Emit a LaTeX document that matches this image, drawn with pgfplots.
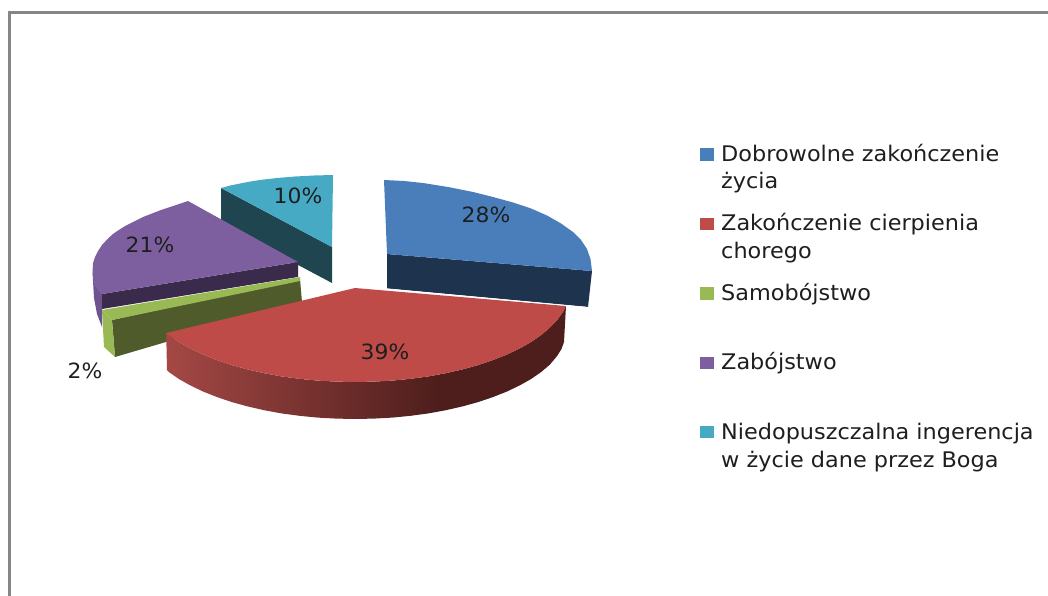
\documentclass[border=0pt]{standalone}
\usepackage{fontspec}
\setmainfont[FakeStretch=1.04]{DejaVu Sans}
\usepackage{pgfplots}
\pgfplotsset{compat=1.18}
\definecolor{cblue}{HTML}{4A7EBB}
\definecolor{cbluedk}{HTML}{1E334E}
\definecolor{cred}{HTML}{BE4B48}
\definecolor{credA}{HTML}{A44845}
\definecolor{credB}{HTML}{4E1E1C}
\definecolor{cgreen}{HTML}{98B954}
\definecolor{cgreendk}{HTML}{4F5B2A}
\definecolor{cpurple}{HTML}{7D5FA0}
\definecolor{cpurpledk}{HTML}{3A2A4C}
\definecolor{cpurplemd}{HTML}{6E5390}
\definecolor{cteal}{HTML}{46AAC5}
\definecolor{ctealdk}{HTML}{1F4650}
\definecolor{cframe}{HTML}{868686}
\definecolor{ctext}{HTML}{1E1E1E}
\pgfdeclarehorizontalshading{redside}{100bp}{color(0bp)=(credA); color(25bp)=(credA); color(59bp)=(credB); color(75bp)=(credB); color(100bp)=(credB)}
\newcommand{\lab}[3]{\node[anchor=base,font=\fontsize{21}{24}\selectfont,text=ctext,inner sep=0pt] at (axis cs:#1,#2) {#3};}
\newcommand{\leg}[3]{\node[anchor=base west,font=\fontsize{21.5}{24}\selectfont,text=ctext,inner sep=0pt] at (axis cs:#1,#2) {#3};}
\begin{document}
\begin{tikzpicture}
\path[use as bounding box] (0,0) rectangle (1048pt,596pt);
\begin{axis}[at={(0,0)},anchor=south west,scale only axis,width=1048pt,height=596pt,
  xmin=0,xmax=1048,ymin=0,ymax=596,y dir=reverse,hide axis,no markers]
% frame
\addplot[draw=cframe,line width=3pt] coordinates {(9.5,600) (9.5,12.5) (1052,12.5)};
% teal slice
\addplot[fill=ctealdk,draw=none] coordinates {(221,188) (332,247) (332,283) (221,224)};
\addplot[fill=cteal,draw=none] coordinates {(221,188) (230,185.6) (240,183.5) (250,181.6) (260,180) (277,178) (295,176.5) (314,175.5) (333,175) (332,247)};
% purple slice
\addplot[fill=cpurplemd,draw=none] coordinates {(92.5,272) (95,285) (102,294) (102,327) (97,314) (94,298)};
\addplot[fill=cpurpledk,draw=none] coordinates {(102,294) (298,262) (298,277) (102,309)};
\addplot[fill=cpurple,draw=none] coordinates {(188,201) (179,204) (170,207) (161,210) (152,213.5) (143,217) (135,221) (126,225.5) (118,230.5) (113,234) (108,238.5) (102,245) (98,251) (95,257) (93,263) (92.5,272) (93.5,279) (95,285) (98,290) (102,294) (298,262)};
% green slice
\addplot[fill=cgreendk,draw=none] coordinates {(112,320) (300,279) (302,302) (115,357)};
\addplot[fill=cgreen,draw=none] coordinates {(102,310) (112,320) (115,357) (104,347)};
\addplot[fill=cgreen,draw=none] coordinates {(300,277) (102,310) (112,320) (300,281)};
% red slice
\addplot[shade,shading=redside,draw=none] coordinates {
 (566,306) (562.7,312.3) (557.1,320.1) (549.8,327.7) (541.2,335) (531.1,342) (519.7,348.4) (507,354.5) (493.2,360) (478.4,365) (462.5,369.4) (445.9,373.2) (428.5,376.4) (410.6,378.8) (392.4,380.6) (373.7,381.6) (355,382) (336.3,381.6) (317.6,380.6) (299.4,378.8) (281.5,376.4) (264.1,373.2) (247.5,369.4) (231.6,365) (216.8,360) (203,354.5) (190.3,348.4) (178.9,342) (168.8,335) (166.2,333)
 (167,370) (168.8,372) (178.9,379) (190.3,385.4) (203,391.5) (216.8,397) (231.6,402) (247.5,406.4) (264.1,410.2) (281.5,413.4) (299.4,415.8) (317.6,417.6) (336.3,418.6) (355,419) (373.7,418.6) (392.4,417.6) (410.6,415.8) (428.5,413.4) (445.9,410.2) (462.5,406.4) (478.4,402) (493.2,397) (507,391.5) (519.7,385.4) (531.1,379) (541.2,372) (549.8,364.7) (557.1,356) (561.5,349) (564,342)};
\addplot[fill=cred,draw=none] coordinates {(355,288) (566,306) (562.7,312.3) (557.1,320.1) (549.8,327.7) (541.2,335) (531.1,342) (519.7,348.4) (507,354.5) (493.2,360) (478.4,365) (462.5,369.4) (445.9,373.2) (428.5,376.4) (410.6,378.8) (392.4,380.6) (373.7,381.6) (355,382) (336.3,381.6) (317.6,380.6) (299.4,378.8) (281.5,376.4) (264.1,373.2) (247.5,369.4) (231.6,365) (216.8,360) (203,354.5) (190.3,348.4) (178.9,342) (168.8,335) (166.2,333)};
% blue slice
\addplot[fill=cbluedk,draw=none] coordinates {(387,254) (592,271) (588,307) (387,288.5)};
\addplot[draw=white,line width=0.7pt] coordinates {(387,288.8) (588,307.3)};
\addplot[fill=cblue,draw=none] coordinates {(384,180) (404,181) (423,183) (448,187) (473,192) (493,197) (513,202.5) (531,208.5) (547,215.5) (561,223.5) (573,232) (581,240) (587,249) (590.5,259) (592,271) (387,254)};
% legend keys
\addplot[fill=cblue,draw=none] coordinates {(700,148) (714,148) (714,161) (700,161)};
\addplot[fill=cred,draw=none] coordinates {(700,218) (714,218) (714,230) (700,230)};
\addplot[fill=cgreen,draw=none] coordinates {(700,287) (714,287) (714,300) (700,300)};
\addplot[fill=cpurple,draw=none] coordinates {(700,357) (714,357) (714,369) (700,369)};
\addplot[fill=cteal,draw=none] coordinates {(700,426) (714,426) (714,438) (700,438)};
% data labels
\lab{486}{222}{28\%}
\lab{385}{359}{39\%}
\lab{150}{252}{21\%}
\lab{298}{203}{10\%}
\lab{85}{378}{2\%}
% legend text
\leg{721}{162}{Dobrowolne zakończenie}
\leg{721}{189}{życia}
\leg{721}{230}{Zakończenie cierpienia}
\leg{721}{258}{chorego}
\leg{721}{300}{Samobójstwo}
\leg{721}{369}{Zabójstwo}
\leg{721}{439}{Niedopuszczalna ingerencja}
\leg{721}{467}{w życie dane przez Boga}
\end{axis}
\end{tikzpicture}
\end{document}
